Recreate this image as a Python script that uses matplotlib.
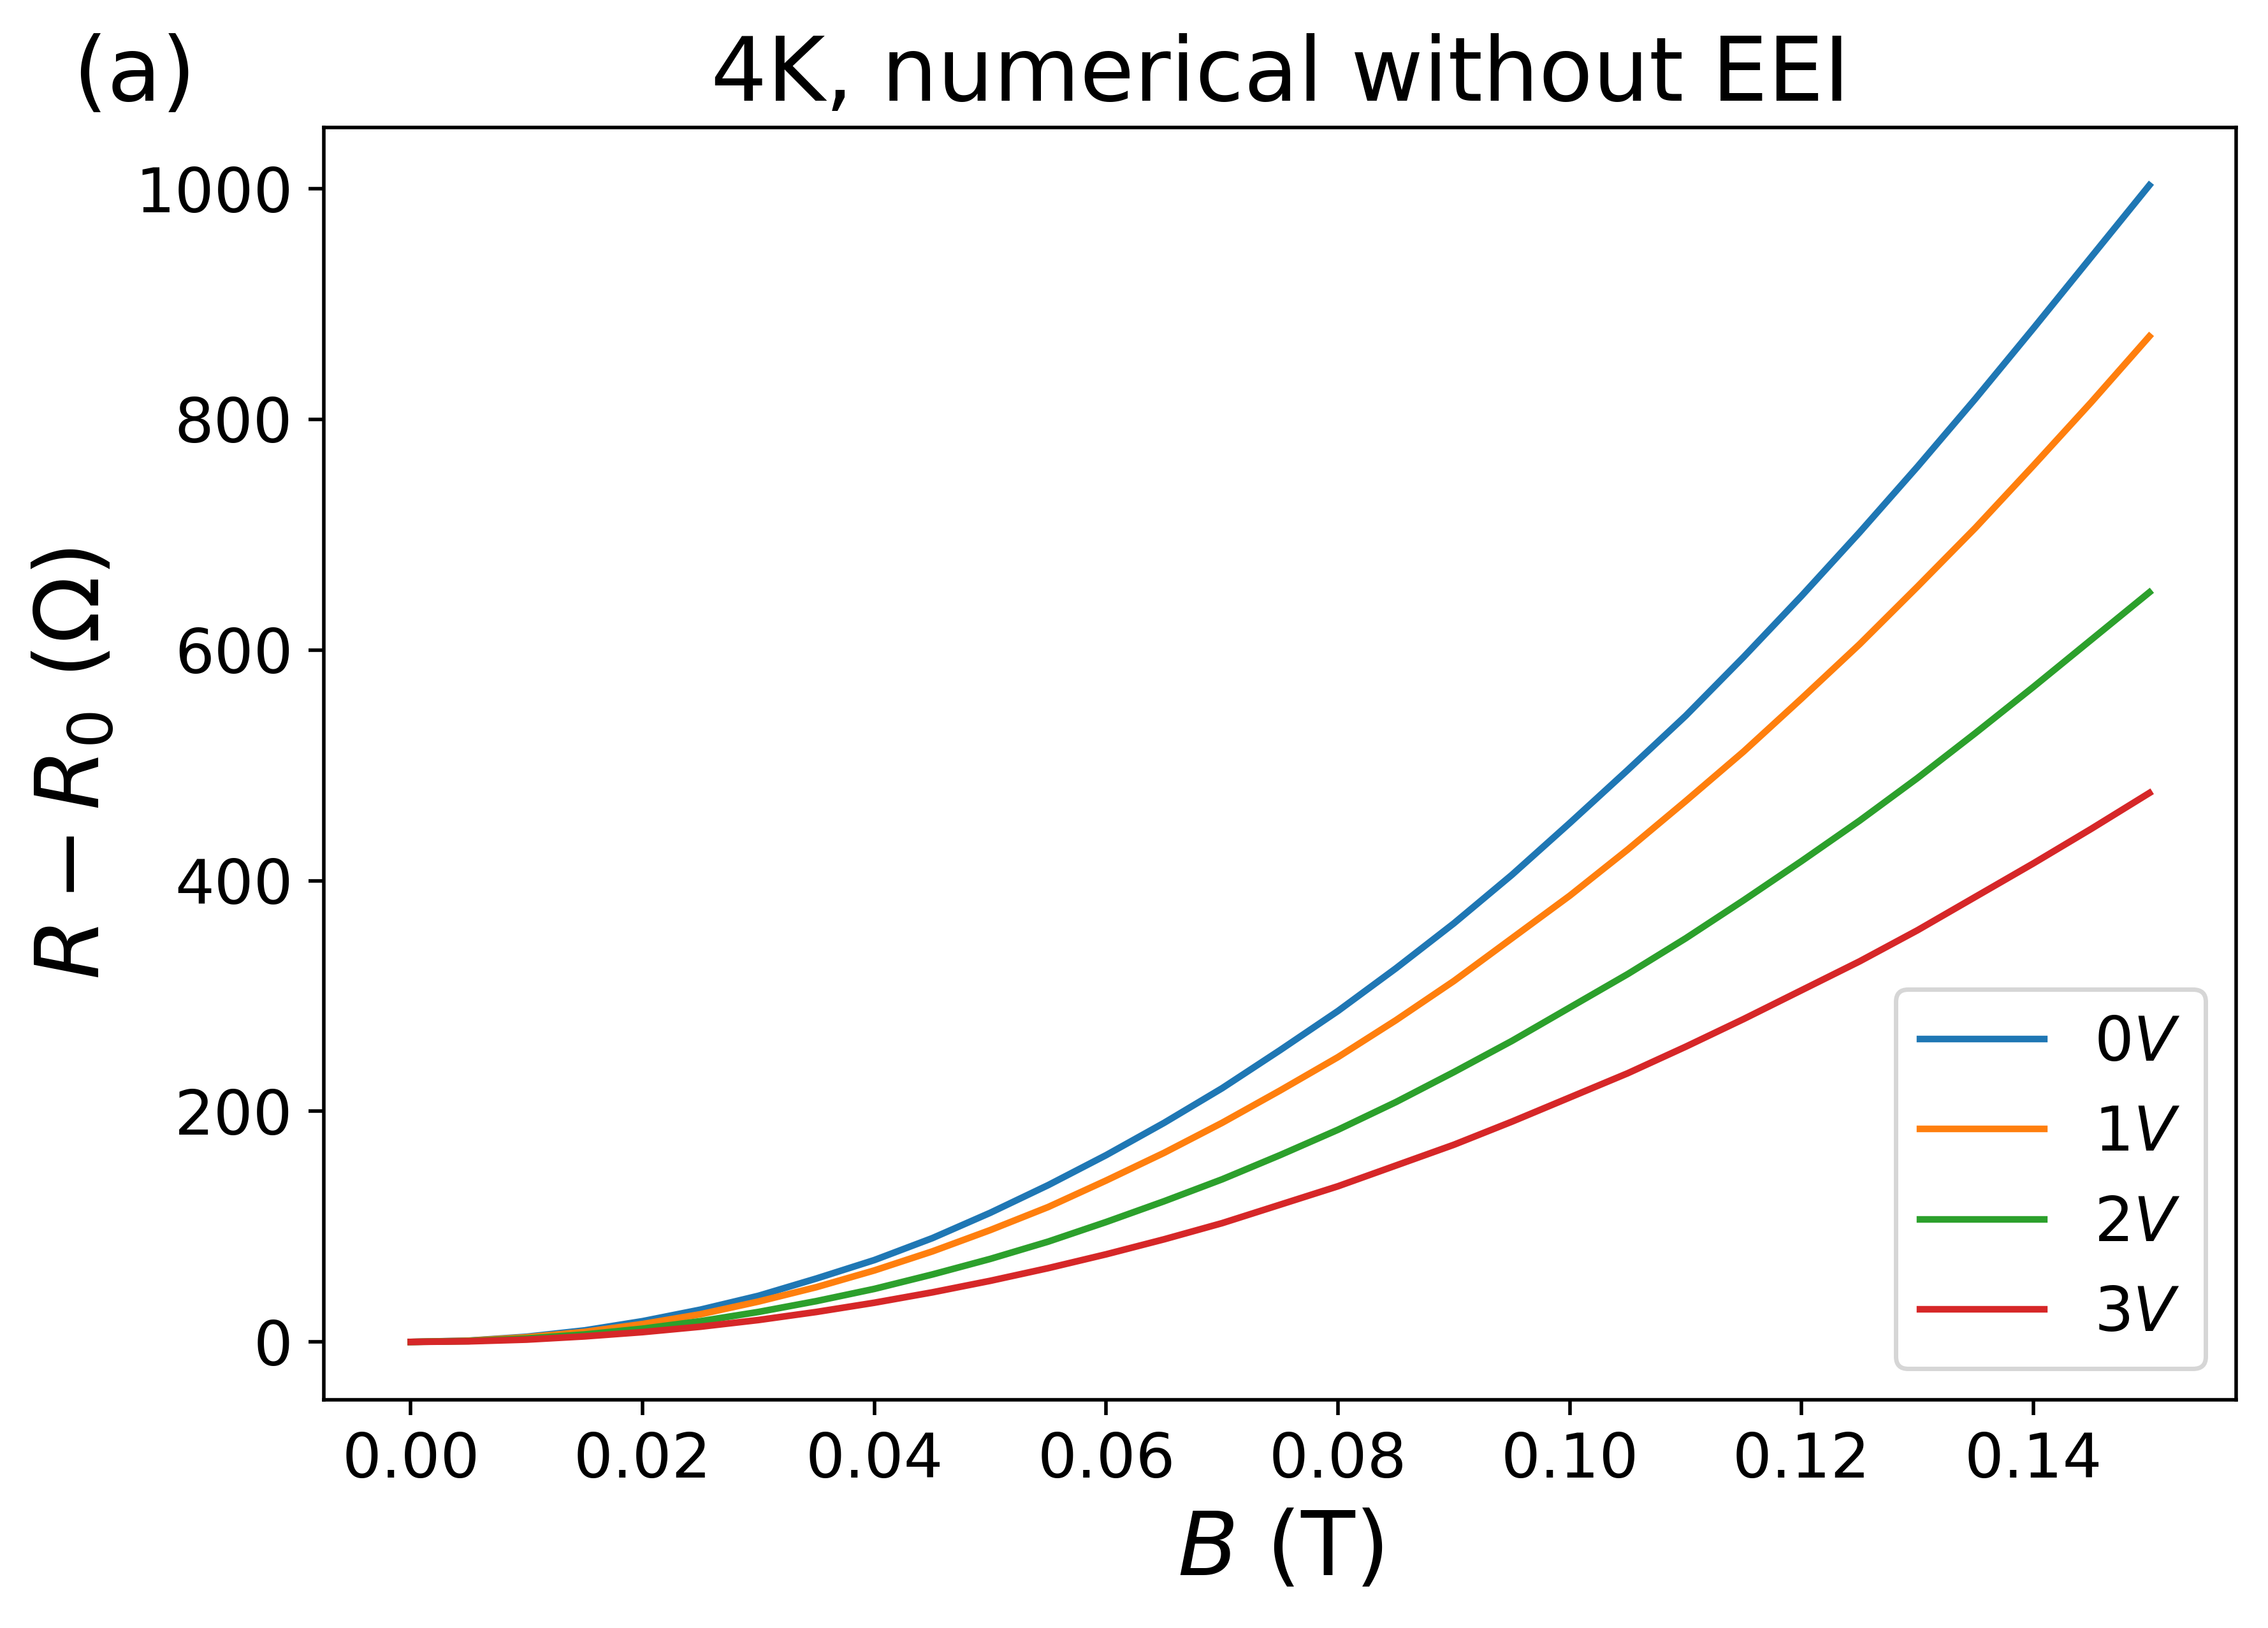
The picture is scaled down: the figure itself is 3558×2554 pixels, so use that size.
import matplotlib
matplotlib.use('Agg')
import matplotlib.pyplot as plt
import numpy as np

FLABEL = 20
FAX = 14

# Values (R - R0 in Ohm at each field B in T)
B = [0.000, 0.005, 0.010, 0.015, 0.020, 0.025, 0.030, 0.035,
     0.040, 0.045, 0.050, 0.055, 0.060, 0.065, 0.070, 0.075,
     0.080, 0.085, 0.090, 0.095, 0.100, 0.105, 0.110, 0.115,
     0.120, 0.125, 0.130, 0.135, 0.140, 0.145, 0.150]
r_0v = [0, 1.1, 4.5, 10, 18, 28, 40, 55,
        71, 90, 112, 136, 162, 190, 220, 253,
        287, 324, 363, 405, 450, 496, 543, 594,
        647, 702, 759, 818, 879, 941, 1003]
r_1v = [0, 1, 4, 8.7, 15.5, 24, 35, 47.5,
        62, 78.5, 97, 117, 140, 164, 190, 218,
        247, 279, 313, 350, 387, 427, 469, 512,
        558, 605, 655, 706, 760, 815, 872]
r_2v = [0, 0.7, 3, 6.5, 11.5, 18, 26, 35.4,
        46, 58.5, 72, 87, 104, 122, 141, 162,
        184, 208, 234, 261, 290, 319, 350, 383,
        417, 452, 489, 528, 568, 609, 650]
r_3v = [0, 0.5, 2, 4.8, 8.5, 13.2, 19, 26,
        34, 43, 53, 64, 76, 89, 103, 119,
        135, 153, 171, 191, 212, 233, 256, 280,
        305, 330, 357, 386, 415, 445, 476]
labels = [r'$0V$', r'$1V$', r'$2V$', r'$3V$']

fig = plt.figure(figsize=(7.116, 5.108), dpi=500)
ax = fig.add_axes([0.1428, 0.1402, 0.8432, 0.7815])

for r, lab in zip([r_0v, r_1v, r_2v, r_3v], labels):
    ax.plot(B, r, lw=1.5, label=lab)

ax.set_title('4K, numerical without EEI', fontsize=FLABEL)
ax.set_xlabel(r'$B$ (T)', fontsize=FLABEL)
ax.set_ylabel(r'$R - R_0$ ($\Omega$)', fontsize=FLABEL)
ax.set_xticks(np.arange(0, 0.141, 0.02))
ax.tick_params(labelsize=FAX)
ax.legend(loc='lower right', fontsize=FAX)

fig.text(0.032, 0.938, '(a)', fontsize=FLABEL, va='baseline', ha='left')

fig.savefig('out.png', dpi=500)
